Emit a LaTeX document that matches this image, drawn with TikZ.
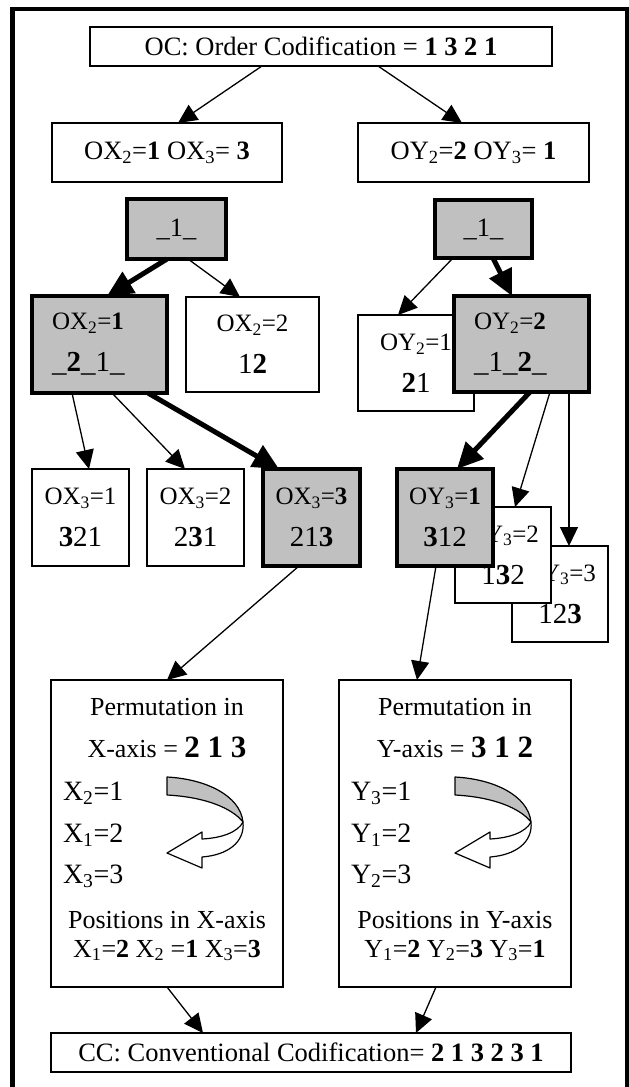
\documentclass[tikz,border=0pt]{standalone}
\usepackage{fontspec}
\setmainfont{Liberation Serif}
\usetikzlibrary{arrows.meta,calc}
\definecolor{boxgray}{HTML}{C0C0C0}
\tikzset{
  box/.style={draw, line width=1.3pt, fill=white, inner sep=0pt, outer sep=0pt, align=center,
              font=\fontsize{25}{42}\selectfont},
  gbox/.style={box, fill=boxgray, line width=3.5pt},
  onel/.style={font=\fontsize{26.5}{31}\selectfont},
  txt/.style={inner sep=0pt, outer sep=0pt, font=\fontsize{26}{31}\selectfont},
  big/.style={inner sep=0pt, outer sep=0pt, font=\fontsize{28}{31}\selectfont},
  arr/.style={line width=1.3pt, -{Triangle[length=19pt,width=18pt]}},
  tarr/.style={line width=5pt, -{Triangle[length=26pt,width=24pt]}},
  frame/.style={line width=4.5pt},
  bentline/.style={draw=black, line width=1.2pt, line join=round}
}
\newcommand{\Lt}[1]{{\fontsize{29}{42}\selectfont #1}}
\newcommand{\bentarrow}[1]{%
  \begin{scope}[xshift=#1]
    \path[bentline, fill=boxgray] (167,777) -- (167,795)
      .. controls (205,797) and (232,808) .. (243,822)
      .. controls (240,795) and (205,779) .. (167,777) -- cycle;
    \path[bentline, fill=white] (243,822)
      .. controls (245,842) and (228,855) .. (202,857) -- (202,868) -- (167,853)
      -- (202,832) -- (202,839)
      .. controls (222,838) and (238,832) .. (243,822) -- cycle;
  \end{scope}}
\begin{document}
\begin{tikzpicture}[x=1pt,y=-1pt]
\useasboundingbox (0,0) rectangle (629,1087);
\fill[white] (0,0) rectangle (629,1087);
\draw[frame] (12.5,1087) -- (12.5,9) -- (627,9) -- (627,1087);

% top
\node[box, onel, minimum width=462pt, minimum height=39pt] (OC) at (321,46.5)
  {OC: Order Codification = \textbf{1 3 2 1}};
\node[box, onel, minimum width=230pt, minimum height=59pt] (OX) at (167,152.5)
  {OX\textsubscript{2}=\textbf{1} OX\textsubscript{3}= \textbf{3}};
\node[box, onel, minimum width=231pt, minimum height=59pt] (OY) at (473.5,152.5)
  {OY\textsubscript{2}=\textbf{2} OY\textsubscript{3}= \textbf{1}};

% _1_ boxes
\node[gbox, onel, minimum width=99pt, minimum height=60pt] (L1) at (176.5,229) {\_1\_};
\node[gbox, onel, minimum width=97pt, minimum height=58pt] (R1) at (483.5,229) {\_1\_};

% second level
\node[gbox, align=left, text width=95pt, inner xsep=20pt, minimum height=97pt] (OX21) at (99.5,344.5)
  {OX\textsubscript{2}=\textbf{1}\\\Lt{\_\textbf{2}\_1\_}};
\node[box, minimum width=133pt, minimum height=95pt] (OX22) at (252.5,344.5)
  {OX\textsubscript{2}=2\\\Lt{1\textbf{2}}};
\node[box, minimum width=116pt, minimum height=96pt] (OY21) at (416,363)
  {OY\textsubscript{2}=1\\\Lt{\textbf{2}1}};
\node[gbox, align=left, text width=95pt, inner xsep=20pt, minimum height=96pt] (OY22) at (521.5,344)
  {OY\textsubscript{2}=\textbf{2}\\\Lt{\_1\_\textbf{2}\_}};

% third level
\node[box, minimum width=97pt, minimum height=97pt] (OX31) at (80.5,517.5)
  {OX\textsubscript{3}=1\\\Lt{\textbf{3}21}};
\node[box, minimum width=97pt, minimum height=97pt] (OX32) at (195.5,517.5)
  {OX\textsubscript{3}=2\\\Lt{2\textbf{3}1}};
\node[gbox, minimum width=97pt, minimum height=97pt] (OX33) at (311.5,517.5)
  {OX\textsubscript{3}=\textbf{3}\\\Lt{21\textbf{3}}};
\node[box, minimum width=96pt, minimum height=96pt] (OY33) at (560,594)
  {OY\textsubscript{3}=3\\\Lt{12\textbf{3}}};
\node[box, minimum width=96pt, minimum height=96pt] (OY32) at (503,555)
  {OY\textsubscript{3}=2\\\Lt{1\textbf{3}2}};
\node[gbox, minimum width=96pt, minimum height=97pt] (OY31) at (445,517.5)
  {OY\textsubscript{3}=\textbf{1}\\\Lt{\textbf{3}12}};

% permutation boxes
\node[box, minimum width=232pt, minimum height=307pt] (PX) at (167,833.5) {};
\node[box, minimum width=232pt, minimum height=307pt] (PY) at (455,833.5) {};

\node[txt, anchor=base] (PX1) at (167,715) {Permutation in};
\node[txt, anchor=base] (PX2) at (167,757) {X-axis = {\fontsize{31}{31}\selectfont\bfseries 2 1 3}};
\node[big, anchor=base west] (PX3) at (63,800) {X\textsubscript{2}=1};
\node[big, anchor=base west] (PX4) at (63,842) {X\textsubscript{1}=2};
\node[big, anchor=base west] (PX5) at (63,883) {X\textsubscript{3}=3};
\node[txt, anchor=base] (PX6) at (167,928) {Positions in X-axis};
\node[txt, anchor=base] (PX7) at (167,957)
  {X\textsubscript{1}=\textbf{2} X\textsubscript{2} =\textbf{1} X\textsubscript{3}=\textbf{3}};
\bentarrow{0pt}

\node[txt, anchor=base] (PY1) at (455,715) {Permutation in};
\node[txt, anchor=base] (PY2) at (455,757) {Y-axis = {\fontsize{31}{31}\selectfont\bfseries 3 1 2}};
\node[big, anchor=base west] (PY3) at (351,800) {Y\textsubscript{3}=1};
\node[big, anchor=base west] (PY4) at (351,842) {Y\textsubscript{1}=2};
\node[big, anchor=base west] (PY5) at (351,883) {Y\textsubscript{2}=3};
\node[txt, anchor=base] (PY6) at (455,928) {Positions in Y-axis};
\node[txt, anchor=base] (PY7) at (455,957)
  {Y\textsubscript{1}=\textbf{2} Y\textsubscript{2}=\textbf{3} Y\textsubscript{3}=\textbf{1}};
\bentarrow{288pt}

% bottom
\node[box, onel, minimum width=520pt, minimum height=39pt] (CC) at (311,1052.5)
  {CC: Conventional Codification= \textbf{2 1 3 2 3 1}};

% connectors
\draw[arr]  ($(OC.south west)+(172,0)$) -- ($(OX.north west)+(126,0)$);
\draw[arr]  ($(OC.south west)+(288,0)$) -- ($(OY.north west)+(104,0)$);
\draw[tarr] ($(L1.south west)+(40,0)$)  -- ($(OX21.north west)+(75,0)$);
\draw[arr]  ($(L1.south west)+(61,0)$)  -- ($(OX22.north west)+(54,0)$);
\draw[arr]  ($(R1.south west)+(18,0)$)  -- ($(OY21.north west)+(40,0)$);
\draw[tarr] ($(R1.south west)+(58,0)$)  -- ($(OY22.north west)+(58,0)$);
\draw[arr]  ($(OX21.south west)+(40,0)$) -- ($(OX31.north west)+(57,0)$);
\draw[arr]  ($(OX21.south west)+(80,0)$) -- ($(OX32.north west)+(38,0)$);
\draw[tarr] ($(OX21.south west)+(116,0)$) -- ($(OX33.north west)+(16,0)$);
\draw[tarr] ($(OY22.south west)+(76,0)$) -- ($(OY31.north west)+(60,0)$);
\draw[arr]  ($(OY22.south west)+(96,0)$) -- ($(OY32.north west)+(60,0)$);
\draw[arr]  ($(OY22.south west)+(115,0)$) -- ($(OY33.north west)+(57,0)$);
\draw[arr]  ($(OX33.south west)+(36,0)$) -- (PX.north);
\draw[arr]  ($(OY31.south west)+(39,0)$) -- ($(PY.north west)+(78,0)$);
\draw[arr]  (PX.south) -- ($(CC.north west)+(152,0)$);
\draw[arr]  ($(PY.south west)+(97,0)$) -- ($(CC.north west)+(365,0)$);
\end{tikzpicture}
\end{document}
